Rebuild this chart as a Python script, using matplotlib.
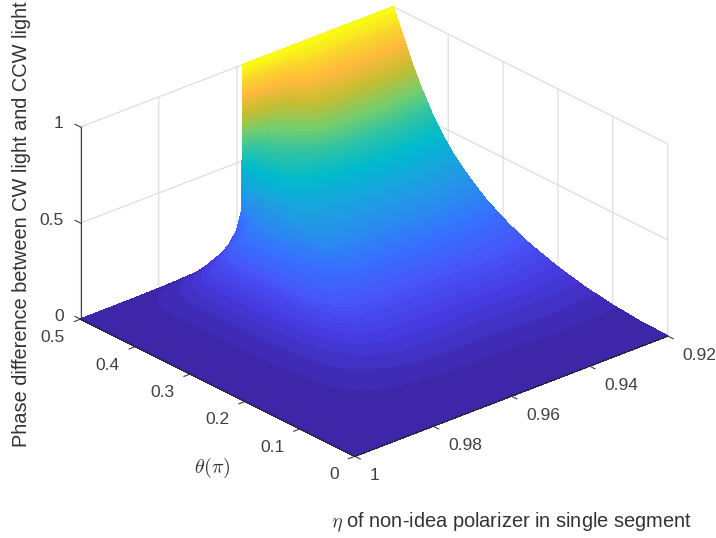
import matplotlib
matplotlib.use("Agg")
import numpy as np
from matplotlib import pyplot as plt
from matplotlib.colors import LinearSegmentedColormap
from matplotlib.tri import Triangulation
from mpl_toolkits.mplot3d import proj3d

plt.rcParams['font.family'] = ['Liberation Sans', 'DejaVu Sans']
plt.rcParams['mathtext.fontset'] = 'cm'

theta = [0, .05, .1, .15, .2, .25, .29, .33, .36, .39, .41, .43, .45, .46, .47, .48, .49, .495, .4975, .499, .5]
eta = [.92, .93, .94, .945, .95, .955, .9575, .9585, .9587, .96, .962, .965, .97, .975, .98, .985, .99, .995, 1]

# phase difference, one row per eta
phase = [
    [0, .004, .017, .039, .072, .118, .168, .235, .303, .385, .458, .546, .654, .714, .781, .851, .924, .962, .981, .992, 1],
    [0, .004, .018, .042, .078, .127, .18, .25, .325, .415, .485, .575, .68, .735, .80, .865, .93, .965, .982, .992, 1],
    [0, .004, .018, .041, .076, .124, .176, .245, .318, .405, .475, .565, .675, .735, .80, .87, .93, .965, .982, .992, 1],
    [0, .004, .017, .040, .074, .12, .172, .24, .31, .395, .46, .55, .66, .72, .79, .86, .925, .96, .98, .99, 1],
    [0, .004, .017, .04, .074, .12, .17, .236, .305, .383, .44, .512, .58, .612, .648, .68, .76, .84, .91, .96, 1],
    [0, .004, .017, .04, .073, .118, .168, .235, .295, .36, .41, .46, .515, .533, .553, .57, .60, .70, .80, .90, 1],
    [0, .004, .017, .04, .073, .118, .168, .23, .287, .342, .375, .404, .432, .44, .454, .464, .47, .50, .60, .78, 1],
    [0, .004, .017, .04, .072, .116, .165, .222, .27, .315, .335, .352, .365, .37, .378, .385, .39, .395, .43, .6, 1],
    [0, .004, .017, .04, .072, .115, .163, .218, .265, .305, .325, .34, .345, .342, .332, .31, .28, .265, .255, .25, .245],
    [0, .004, .017, .039, .071, .116, .16, .206, .24, .262, .28, .29, .288, .279, .261, .231, .195, .173, .162, .155, .15],
    [0, .004, .017, .039, .071, .113, .154, .193, .215, .231, .24, .245, .24, .231, .21, .178, .138, .114, .103, .095, .09],
    [0, .004, .016, .038, .069, .111, .144, .172, .185, .19, .195, .198, .191, .181, .16, .128, .088, .064, .053, .045, .04],
    [0, .004, .015, .034, .06, .085, .098, .105, .108, .109, .11, .11, .105, .098, .085, .066, .043, .027, .019, .015, .012],
    [0, .0035, .0125, .027, .043, .055, .06, .0625, .064, .065, .065, .065, .062, .058, .05, .038, .024, .015, .011, .008, .006],
    [0, .003, .0105, .020, .029, .033, .034, .035, .035, .035, .035, .035, .033, .031, .027, .021, .013, .008, .006, .004, .003],
    [0, .002, .007, .0125, .0155, .0165, .017, .018, .018, .018, .018, .018, .017, .016, .014, .010, .006, .004, .002, .0015, .001],
    [0, .001, .003, .0045, .0055, .0065, .007, .007, .007, .007, .007, .007, .0065, .006, .005, .004, .002, .0015, .001, .0007, .0005],
    [0, .0005, .001, .0015, .002, .002, .002, .002, .002, .002, .002, .002, .002, .0018, .0015, .001, .0006, .0004, .0003, .0002, .0001],
    [0, 0, 0, 0, 0, 0, 0, 0, 0, 0, 0, 0, 0, 0, 0, 0, 0, 0, 0, 0, 0],
]

theta_ticks = [0, .1, .2, .3, .4, .5]
theta_labels = ['0', '0.1', '0.2', '0.3', '0.4', '0.5']
eta_ticks = [.92, .94, .96, .98, 1]
eta_labels = ['0.92', '0.94', '0.96', '0.98', '1']
z_ticks = [0, .5, 1]
z_labels = ['0', '0.5', '1']

parula = LinearSegmentedColormap.from_list('parula', [
    (0, (62/255, 38/255, 168/255)),
    (.06, (69/255, 58/255, 222/255)),
    (.125, (71/255, 84/255, 250/255)),
    (.2, (55/255, 112/255, 255/255)),
    (.27, (42/255, 138/255, 240/255)),
    (.35, (30/255, 158/255, 225/255)),
    (.47, (0/255, 186/255, 205/255)),
    (.56, (45/255, 195/255, 165/255)),
    (.65, (115/255, 205/255, 110/255)),
    (.75, (195/255, 190/255, 50/255)),
    (.85, (255/255, 185/255, 60/255)),
    (.92, (250/255, 212/255, 45/255)),
    (1, (249/255, 251/255, 20/255)),
], N=64)

fig = plt.figure(figsize=(7.16, 5.38), dpi=100)
ax = fig.add_axes([66/716, -1.6/538, 600/716, 600/538], projection='3d', proj_type='ortho')
ax.patch.set_alpha(0)
ax.view_init(elev=26, azim=138.75)
ax.set_box_aspect((1, 1, .5138), zoom=1.013)

ax.set_xlim(0, .5, view_margin=0)
ax.set_ylim(.92, 1, view_margin=0)
ax.set_zlim(0, 1, view_margin=0)
ax.set_xticks(theta_ticks, [''] * len(theta_ticks))
ax.set_yticks(eta_ticks, [''] * len(eta_ticks))
ax.set_zticks(z_ticks, [''] * len(z_ticks))

# z axis goes on the left corner like in the MATLAB figure
ax.zaxis._get_axis_line_edge_points = lambda minmax, maxmin, position=None: (
    np.array([theta[-1], eta[-1], 0.]), np.array([theta[-1], eta[-1], 1.]))

for axis in (ax.xaxis, ax.yaxis, ax.zaxis):
    axis.set_pane_color((1, 1, 1, 0))
    axis.pane.set_edgecolor((1, 1, 1, 0))
    axis.line.set_color('#404040')
    axis.line.set_linewidth(.8)
    axis._axinfo['grid'].update(color='#dedede', linewidth=.9)
    axis.set_tick_params(color='#404040', width=.8)
ax.xaxis._axinfo['tick'].update(inward_factor=.25, outward_factor=0)
ax.yaxis._axinfo['tick'].update(inward_factor=.25, outward_factor=0)
ax.zaxis._axinfo['tick'].update(inward_factor=0, outward_factor=.25)

# surface: table vertices go through the 3d projection, filled with 64 colour bands
fig.canvas.draw()
M = ax.get_proj()


def to_pixels(xs, ys, zs):
    px, py, _ = proj3d.proj_transform(np.asarray(xs, float), np.asarray(ys, float), np.asarray(zs, float), M)
    return ax.transData.transform(np.c_[px, py])


TH, ETA = np.meshgrid(theta, eta)
Z = np.array(phase)
pix = to_pixels(TH.ravel(), ETA.ravel(), Z.ravel())
n_eta, n_theta = Z.shape
tris = []
for i in range(n_eta - 1):
    for j in range(n_theta - 1):
        a = i * n_theta + j
        tris.append([a, a + 1, a + n_theta])
        tris.append([a + 1, a + n_theta + 1, a + n_theta])
tri = Triangulation(pix[:, 0], pix[:, 1], tris)

ax2 = fig.add_axes([0, 0, 1, 1])
ax2.set_xlim(0, 716)
ax2.set_ylim(0, 538)
ax2.axis('off')
cs = ax2.tricontourf(tri, Z.ravel(), levels=np.linspace(0, 1, 65), cmap=parula, vmin=0, vmax=1)
cs.set_edgecolor('face')
cs.set_linewidth(.4)
edge_x = pix[:, 0].reshape(Z.shape)
edge_y = pix[:, 1].reshape(Z.shape)
ax2.plot(edge_x[-1, :], edge_y[-1, :], color='#262626', lw=.8)
ax2.plot(edge_x[:, 0], edge_y[:, 0], color='#262626', lw=.8)

# tick labels sit at a fixed pixel offset from the projected tick
tick_style = dict(fontsize=12.5, color='#404040', va='center')
for t, lab in zip(theta_ticks, theta_labels):
    p = to_pixels([t], [eta[-1]], [0])[0]
    ax2.text(p[0] - 15.5, p[1] - 18.5, lab, ha='right', **tick_style)
for e, lab in zip(eta_ticks, eta_labels):
    p = to_pixels([theta[0]], [e], [0])[0]
    ax2.text(p[0] + 15, p[1] - 19.5, lab, ha='left', **tick_style)
for v, lab in zip(z_ticks, z_labels):
    p = to_pixels([theta[-1]], [eta[-1]], [v])[0]
    ax2.text(p[0] - 17, p[1] + 3, lab, ha='right', **tick_style)

fig.text(22/716, 1 - 224/538, 'Phase difference between CW light and CCW light', rotation=90,
         ha='center', va='center', fontsize=14.4, color='#333333')
fig.text(212/716, 1 - 468/538, r'$\theta(\pi)$', ha='center', va='center', fontsize=14.4, color='#333333')
fig.text(511/716, 1 - 522/538, r'$\eta$ of non-idea polarizer in single segment', ha='center', va='center',
         fontsize=14.4, color='#333333')

fig.savefig('out.png', dpi=100)
